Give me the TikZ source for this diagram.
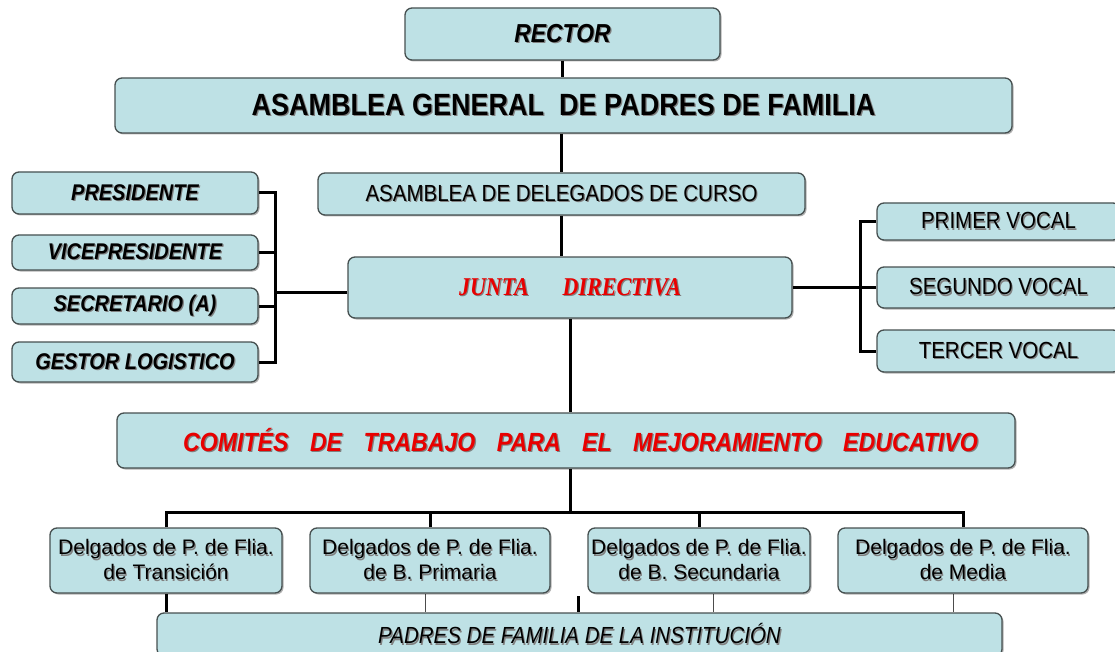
\documentclass[tikz,border=0pt]{standalone}
\usepackage{fontspec}
\setmainfont{Liberation Sans}
\newfontfamily\condsans[FakeStretch=0.88]{Liberation Sans}
\newfontfamily\timesfont[FakeStretch=0.86]{Liberation Serif}
\usetikzlibrary{backgrounds,shadows}
\definecolor{boxfill}{RGB}{190,225,229}
\definecolor{boxline}{RGB}{70,80,80}
\definecolor{redtxt}{RGB}{232,0,0}
\newcommand\shtext[2]{\leavevmode\rlap{\kern1.2pt\raisebox{-1.2pt}{\color{black!50}#2}}{\color{#1}#2}}
\begin{document}
\begin{tikzpicture}[x=1pt,y=-1pt,
  box/.style={draw=boxline, line width=1.3pt, fill=boxfill, rounded corners=7pt,
    inner sep=0pt, align=center, text=black!90,
    drop shadow={shadow xshift=1.5pt, shadow yshift=-1.5pt, opacity=0.3, fill=black}},
  link/.style={line width=3pt, draw=black},
  thinlink/.style={line width=1pt, draw=black!70},
  frector/.style={font=\condsans\fontsize{26}{30}\selectfont\bfseries\itshape},
  fasam/.style={font=\condsans\fontsize{30.7}{35}\selectfont\bfseries},
  freg/.style={font=\condsans\fontsize{23.3}{27}\selectfont},
  fbi/.style={font=\condsans\fontsize{22.7}{27}\selectfont\bfseries\itshape},
  fcom/.style={font=\condsans\fontsize{26.3}{30}\selectfont\bfseries\itshape},
  ftwo/.style={font=\fontsize{21}{25}\selectfont},
  fit/.style={font=\condsans\fontsize{23.3}{27}\selectfont\itshape}]
\path[use as bounding box] (0,0) rectangle (1115,652);
\clip (0,0) rectangle (1115,652);

% top
\node[box, frector, minimum width=315pt, minimum height=52pt] (rector) at (562.5,34) {\shtext{black}{RECTOR}};
\node[box, fasam, minimum width=897pt, minimum height=55pt] (asamblea) at (563.5,105.5) {\shtext{black}{ASAMBLEA GENERAL~ DE PADRES DE FAMILIA}};
\node[box, freg, minimum width=487pt, minimum height=42pt] (deleg) at (561.5,194) {\shtext{black}{ASAMBLEA DE DELEGADOS DE CURSO}};

% left column
\node[box, fbi, minimum width=246pt, minimum height=42pt] (pres) at (135,193) {\shtext{black}{PRESIDENTE}};
\node[box, fbi, minimum width=246pt, minimum height=35pt] (vice) at (135,252.5) {\shtext{black}{VICEPRESIDENTE}};
\node[box, fbi, minimum width=246pt, minimum height=36pt] (secr) at (135,306) {\shtext{black}{SECRETARIO (A)}};
\node[box, fbi, minimum width=246pt, minimum height=40pt] (gest) at (135,362) {\shtext{black}{GESTOR LOGISTICO}};

% junta
\node[box, minimum width=444pt, minimum height=61pt,
  font=\timesfont\fontsize{25.6}{30}\selectfont\bfseries\itshape] (junta) at (570,287.5)
  {\shtext{redtxt}{JUNTA\hspace{34pt}DIRECTIVA}};

% right column
\node[box, freg, minimum width=243pt, minimum height=37pt] (primer) at (998.5,221.5) {\shtext{black}{PRIMER VOCAL}};
\node[box, freg, minimum width=243pt, minimum height=41pt] (segundo) at (998.5,287.5) {\shtext{black}{SEGUNDO VOCAL}};
\node[box, freg, minimum width=243pt, minimum height=42pt] (tercer) at (998.5,351) {\shtext{black}{TERCER VOCAL}};

% comites
\node[box, fcom, minimum width=898pt, minimum height=55pt] (comites) at (566,440.5)
  {\hspace*{29pt}\shtext{redtxt}{COMITÉS\hspace{15pt} DE\hspace{15pt} TRABAJO\hspace{15pt} PARA\hspace{15pt} EL\hspace{15pt} MEJORAMIENTO\hspace{15pt} EDUCATIVO}};

% delegados
\node[box, ftwo, minimum width=232pt, minimum height=65pt] (trans) at (166,560.5)
  {\shtext{black}{Delgados de P. de Flia.}\\\shtext{black}{de Transición}};
\node[box, ftwo, minimum width=240pt, minimum height=65pt] (prim) at (430,560.5)
  {\shtext{black}{Delgados de P. de Flia.}\\\shtext{black}{de B. Primaria}};
\node[box, ftwo, minimum width=222pt, minimum height=65pt] (secu) at (699,560.5)
  {\shtext{black}{Delgados de P. de Flia.}\\\shtext{black}{de B. Secundaria}};
\node[box, ftwo, minimum width=250pt, minimum height=65pt] (media) at (963,560.5)
  {\shtext{black}{Delgados de P. de Flia.}\\\shtext{black}{de Media}};

% padres
\node[box, fit, minimum width=845pt, minimum height=43pt] (padres) at (579.5,634.5) {\shtext{black}{PADRES DE FAMILIA DE LA INSTITUCIÓN}};

\coordinate (lb) at (275,0);
\coordinate (rb) at (860,0);
\coordinate (bb) at (0,512);
\coordinate (stub) at (578,596);

\begin{scope}[on background layer]
\draw[link] (rector.south) -- (rector.south |- asamblea.north);
\draw[link] (deleg.north |- asamblea.south) -- (deleg.north);
\draw[link] (deleg.south) -- (deleg.south |- junta.north);
% left tree
\draw[link] (pres.east) -| (lb |- gest.east) -- (gest.east);
\draw[link] (vice.east) -- (vice.east -| lb);
\draw[link] (secr.east) -- (secr.east -| lb);
\draw[link] ([yshift=-5pt]junta.west) -- ([yshift=-5pt]junta.west -| lb);
% right tree
\draw[link] (junta.east) -- (junta.east -| rb);
\draw[link] (primer.west) -| (rb |- tercer.west) -- (tercer.west);
\draw[link] (segundo.west) -- (segundo.west -| rb);
% down
\draw[link] (junta.south) -- (junta.south |- comites.north);
\draw[link] (junta.south |- comites.south) -- (junta.south |- bb);
\draw[link] (trans.north) |- (media.north |- bb) -- (media.north);
\draw[link] (prim.north) -- (prim.north |- bb);
\draw[link] (secu.north) -- (secu.north |- bb);
% to padres
\draw[link] (trans.south) -- (trans.south |- padres.north);
\draw[thinlink] ([xshift=-5pt]prim.south) -- ([xshift=-5pt]prim.south |- padres.north);
\draw[thinlink] ([xshift=14pt]secu.south) -- ([xshift=14pt]secu.south |- padres.north);
\draw[thinlink] ([xshift=-10pt]media.south) -- ([xshift=-10pt]media.south |- padres.north);
\draw[link] (stub) -- (stub |- padres.north);
\end{scope}
\end{tikzpicture}
\end{document}
